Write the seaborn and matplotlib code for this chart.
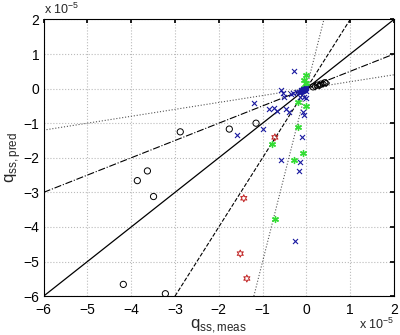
import matplotlib
matplotlib.use("Agg")
import matplotlib.pyplot as plt
import seaborn as sns
import numpy as np
import pandas as pd

# values in units of 1e-5
circ_x = [-2.88, -1.76, -1.15, -3.63, -3.86, -3.49, -4.18, -3.22, 0.15, 0.25, 0.33, 0.42]
circ_y = [-1.25, -1.17, -1.00, -2.38, -2.66, -3.12, -5.66, -5.93, 0.05, 0.10, 0.13, 0.17]
diam_x = [0.20, 0.30, 0.38, 0.45]
diam_y = [0.06, 0.09, 0.14, 0.16]
red_x = [-0.72, -1.43, -1.51, -1.36]
red_y = [-1.41, -3.17, -4.77, -5.49]
green_x = [-0.01, -0.02, -0.05, -0.20, -0.02, -0.19, -0.79, -0.08, -0.28, -0.72, -0.03, -0.06, -0.10]
green_y = [0.39, 0.15, 0.25, -0.39, -0.50, -1.10, -1.60, -1.87, -2.05, -3.77, 0.05, 0.02, -0.03]
blue_x = [-0.28, -0.59, -0.53, -0.52, -1.20, -0.86, -0.73, -0.66, -0.46, -0.40, -0.98, -1.58,
          -0.08, -0.06, -0.10, -0.59, -0.14, -0.16, -0.25, -0.21, -0.14, -0.06, 0.00,
          -0.12, -0.08, -0.04, -0.02, -0.18, -0.10, -0.05, -0.30, -0.35, -0.02]
blue_y = [0.50, -0.04, -0.14, -0.23, -0.43, -0.58, -0.57, -0.64, -0.60, -0.69, -1.16, -1.35,
          -0.69, -0.76, -1.39, -2.05, -2.12, -2.37, -4.40, -0.09, -0.23, -0.23, -0.28,
          -0.05, -0.02, 0.00, 0.03, -0.10, -0.08, -0.04, -0.12, -0.15, -0.06]
blob_x = [-0.15, -0.12, -0.10, -0.08, -0.06, -0.04, -0.02, 0.00, -0.11, -0.07, -0.03, -0.09, -0.05, -0.13]
blob_y = [-0.08, -0.06, -0.05, -0.03, -0.02, -0.01, 0.00, 0.01, -0.09, -0.07, -0.04, -0.02, -0.06, -0.11]
ref_slopes = [0.2, 0.5, 1.0, 2.0, 5.0]
ref_styles = [":", "-.", "-", "--", ":"]
ticks = list(range(-6, 3))

sns.set_theme(style="white")
plt.rcParams['font.family'] = ['Liberation Sans', 'DejaVu Sans']

fig = plt.figure(figsize=(4.0, 3.35), dpi=100)
ax = fig.add_axes([0.109, 0.116, 0.876, 0.826])

xs = np.array([-6.0, 2.0])
for s, ls in zip(ref_slopes, ref_styles):
    lw = 0.9 if ls == "-" else 0.8
    col = "black" if ls in ("-", "--", "-.") else "#555555"
    sns.lineplot(x=xs, y=s * xs, ax=ax, color=col, linestyle=ls, linewidth=lw, zorder=2)

sns.scatterplot(x=circ_x, y=circ_y, ax=ax, marker="o", s=20, facecolor="none",
                edgecolor="black", linewidth=0.7, zorder=3)
sns.scatterplot(x=diam_x, y=diam_y, ax=ax, marker="D", s=12, facecolor="none",
                edgecolor="black", linewidth=0.7, zorder=3)
sns.scatterplot(x=red_x, y=red_y, ax=ax, marker=(6, 1, 0), s=26, facecolor="none",
                edgecolor="#c02020", linewidth=0.7, zorder=3)
sns.scatterplot(x=green_x, y=green_y, ax=ax, marker=(6, 2, 0), s=18,
                color="#33dd33", linewidth=1.0, zorder=3)
sns.scatterplot(x=blue_x, y=blue_y, ax=ax, marker="x", s=13,
                color="#1a1aa0", linewidth=0.8, zorder=4)
sns.scatterplot(x=blob_x, y=blob_y, ax=ax, marker="o", s=12,
                color="#1a1aa0", linewidth=0, zorder=4)

ax.set_xlim(-6, 2)
ax.set_ylim(-6, 2)
ax.set_xticks(ticks)
ax.set_yticks(ticks)
ax.set_xticklabels([str(t).replace("-", "\u2212") for t in ticks], fontsize=10)
ax.set_yticklabels([str(t).replace("-", "\u2212") for t in ticks], fontsize=10)
ax.grid(True, linestyle=":", color="#bbbbbb", linewidth=0.8)
ax.tick_params(direction="in", length=3, top=True, right=True, colors="black",
               labelcolor="black")
ax.tick_params(axis="x", pad=5)
ax.tick_params(axis="y", pad=3)
for sp in ax.spines.values():
    sp.set_color("black")
    sp.set_linewidth(0.8)

ax.set_xlabel(r"q$_{\mathregular{ss,meas}}$", fontsize=12, labelpad=0)
ax.set_ylabel(r"q$_{\mathregular{ss,pred}}$", fontsize=12, labelpad=0)
fig.text(0.109, 0.948, r"x 10$^{\mathregular{-5}}$", fontsize=9, ha="left", va="bottom")
fig.text(0.985, 0.008, r"x 10$^{\mathregular{-5}}$", fontsize=9, ha="right", va="bottom")

fig.savefig("out.png", dpi=100)
